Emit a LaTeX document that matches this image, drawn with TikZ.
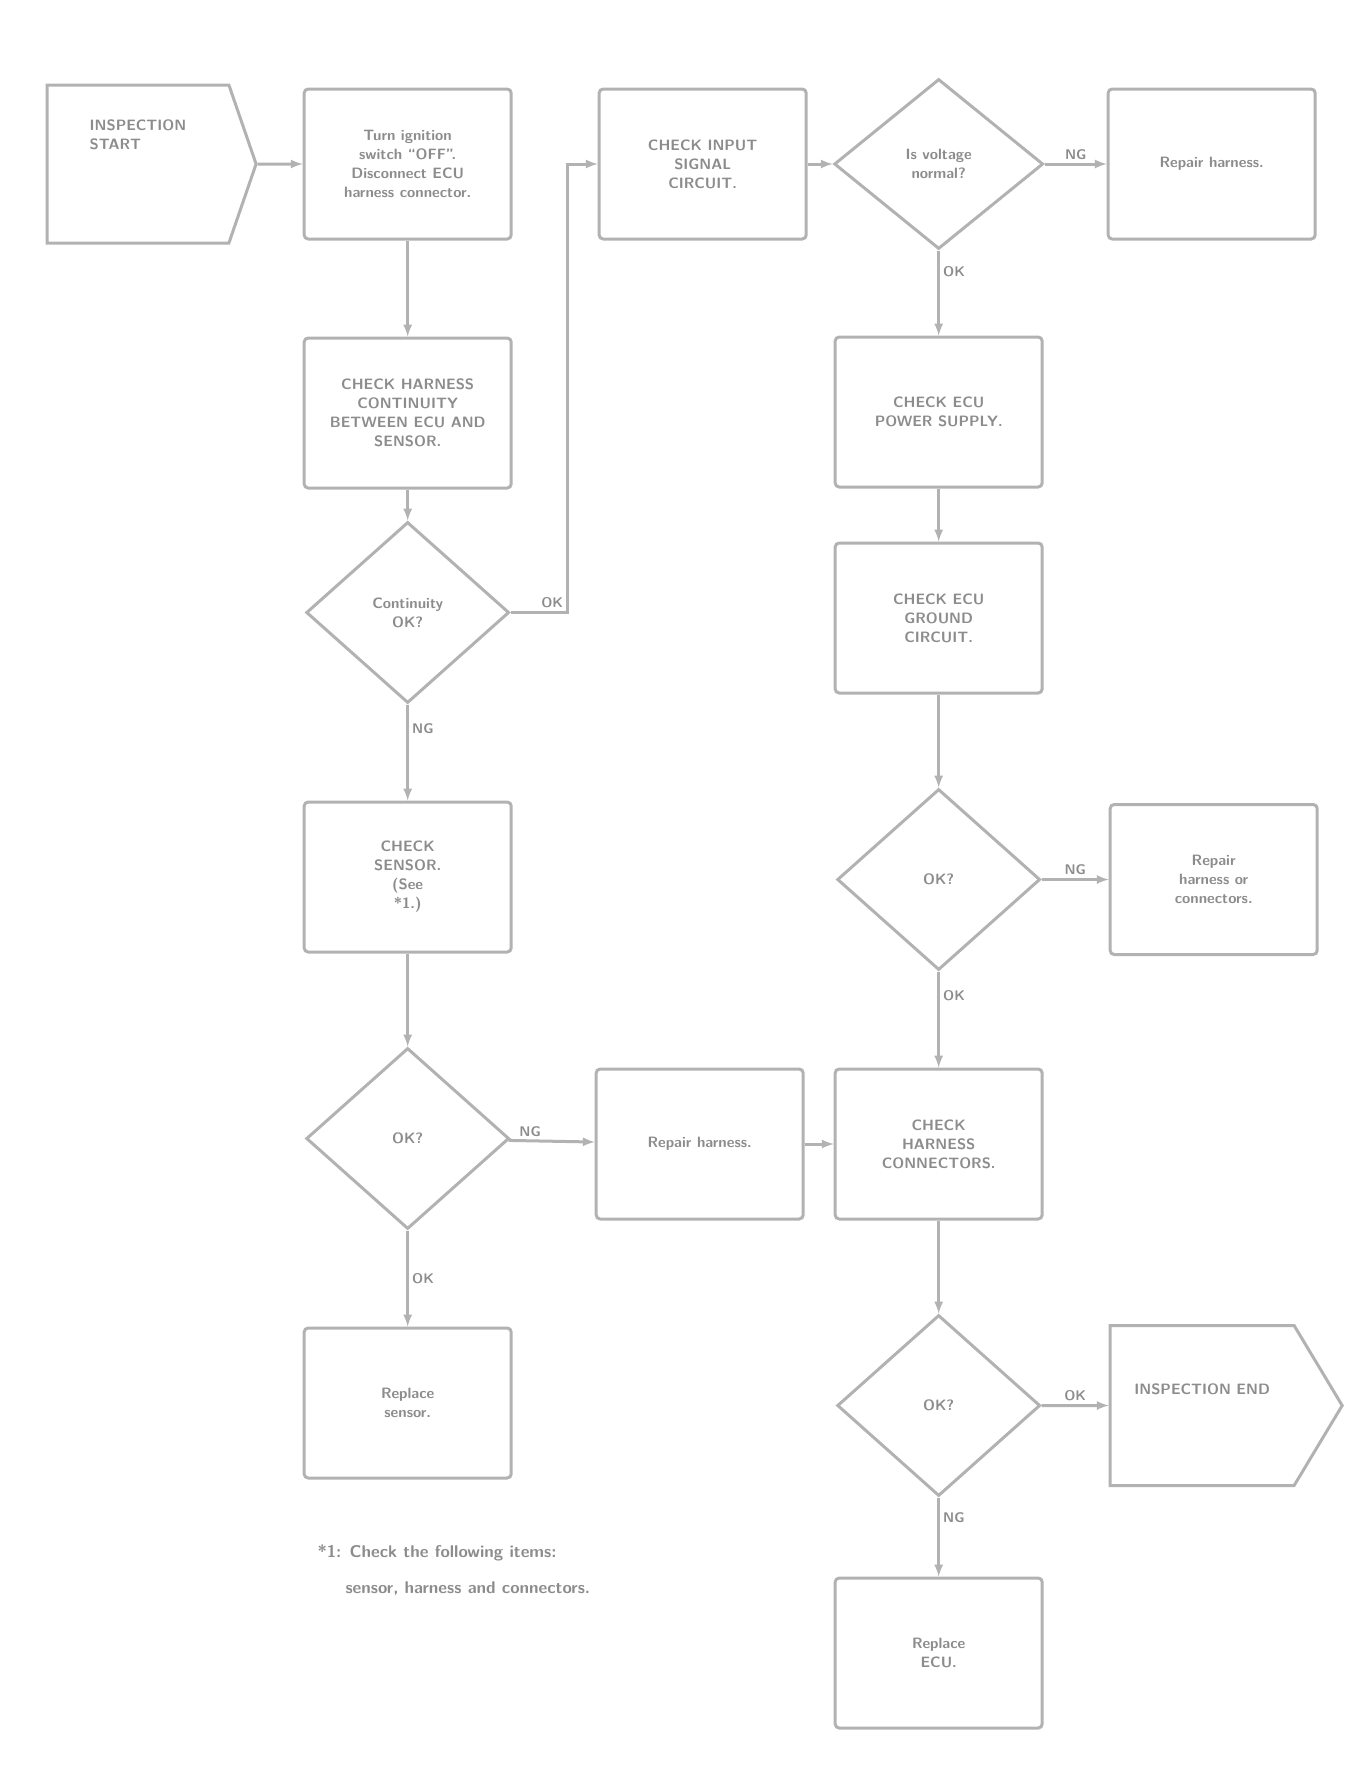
\documentclass[tikz,border=0pt]{standalone}
\usetikzlibrary{positioning, shapes.geometric, shapes.symbols}

\tikzset{
  box/.style={draw, rounded corners=4pt, minimum width=207pt, minimum height=150pt, align=center},
  ask/.style={draw, diamond, minimum width=203pt, minimum height=181pt, align=center, inner sep=0pt},
  tag/.style={draw, signal, signal to=east, minimum width=209pt, minimum height=158pt, align=left},
  lbl/.style={font=\fontsize{14}{16}\selectfont\sffamily\bfseries, inner sep=3pt},
}

\begin{document}
\begin{tikzpicture}[x=1pt, y=-1pt, black!30, line width=3pt, >=latex,
  every node/.append style={text=black!45, font=\fontsize{15}{19}\selectfont\sffamily\bfseries}]

\useasboundingbox (0,0) rectangle (1356,1773);

% top row
\node[tag, signal pointer angle=142] (n1) at (138,164) {INSPECTION\\START\\[40pt]\mbox{}};
\node[box, right=45pt of n1] (n2) {Turn ignition\\switch ``OFF''.\\Disconnect ECU\\harness connector.};
\node[box, right=85pt of n2] (n3) {CHECK INPUT\\SIGNAL\\CIRCUIT.};
\node[ask, minimum height=170pt, minimum width=209pt, right=25pt of n3] (d1) {Is voltage\\normal?};
\node[box, right=62pt of d1] (n4) {Repair harness.};

% left column
\node[box, below=96pt of n2] (n5) {CHECK HARNESS\\CONTINUITY\\BETWEEN ECU AND\\SENSOR.};
\node[ask, below=31pt of n5] (d2) {Continuity\\OK?};
\node[box, below=96pt of d2] (n6) {CHECK\\SENSOR.\\(See\\*1.)};
\node[ask, below=93pt of n6] (d3) {OK?};
\node[box, below=96pt of d3] (n7) {Replace\\sensor.};
\node[font=\fontsize{17}{36}\selectfont\sffamily\bfseries, align=left, below right=60pt and 10pt of n7.south west] (note)
  {*1: Check the following items:\\\hspace{28pt}sensor, harness and connectors.};

% right column
\node[box, below=85pt of d1] (n9) {CHECK ECU\\POWER SUPPLY.};
\node[box, below=53pt of n9] (n10) {CHECK ECU\\GROUND\\CIRCUIT.};
\node[ask, below=93pt of n10] (d4) {OK?};
\node[box, right=67pt of d4] (n11) {Repair\\harness or\\connectors.};
\node[box, below=96pt of d4] (n12) {CHECK\\HARNESS\\CONNECTORS.};
\node[box, left=29pt of n12] (n8) {Repair harness.};
\node[ask, below=93pt of n12] (d5) {OK?};
\node[tag, signal pointer angle=118, minimum width=232pt, minimum height=160pt, right=67pt of d5] (n13) {INSPECTION END\\[14pt]\mbox{}};
\node[box, below=79pt of d5] (n14) {Replace\\ECU.};

\draw[->]
(n1) edge (n2)
(n2) edge (n5)
(n5) edge (d2)
(d2) edge node[lbl, right, near start] {NG} (n6)
(n6) edge (d3)
(d3) edge node[lbl, above, near start] {NG} (n8)
(d3) edge node[lbl, right] {OK} (n7)
(n8) edge (n12)
(n3) edge (d1)
(d1) edge node[lbl, above] {NG} (n4)
(d1) edge node[lbl, right, near start] {OK} (n9)
(n9) edge (n10)
(n10) edge (d4)
(d4) edge node[lbl, above] {NG} (n11)
(d4) edge node[lbl, right, near start] {OK} (n12)
(n12) edge (d5)
(d5) edge node[lbl, above] {OK} (n13)
(d5) edge node[lbl, right, near start] {NG} (n14);

\draw[->] (d2.east) -- ++(57pt,0) node[lbl, above left] {OK} |- (n3.west);

\end{tikzpicture}
\end{document}
